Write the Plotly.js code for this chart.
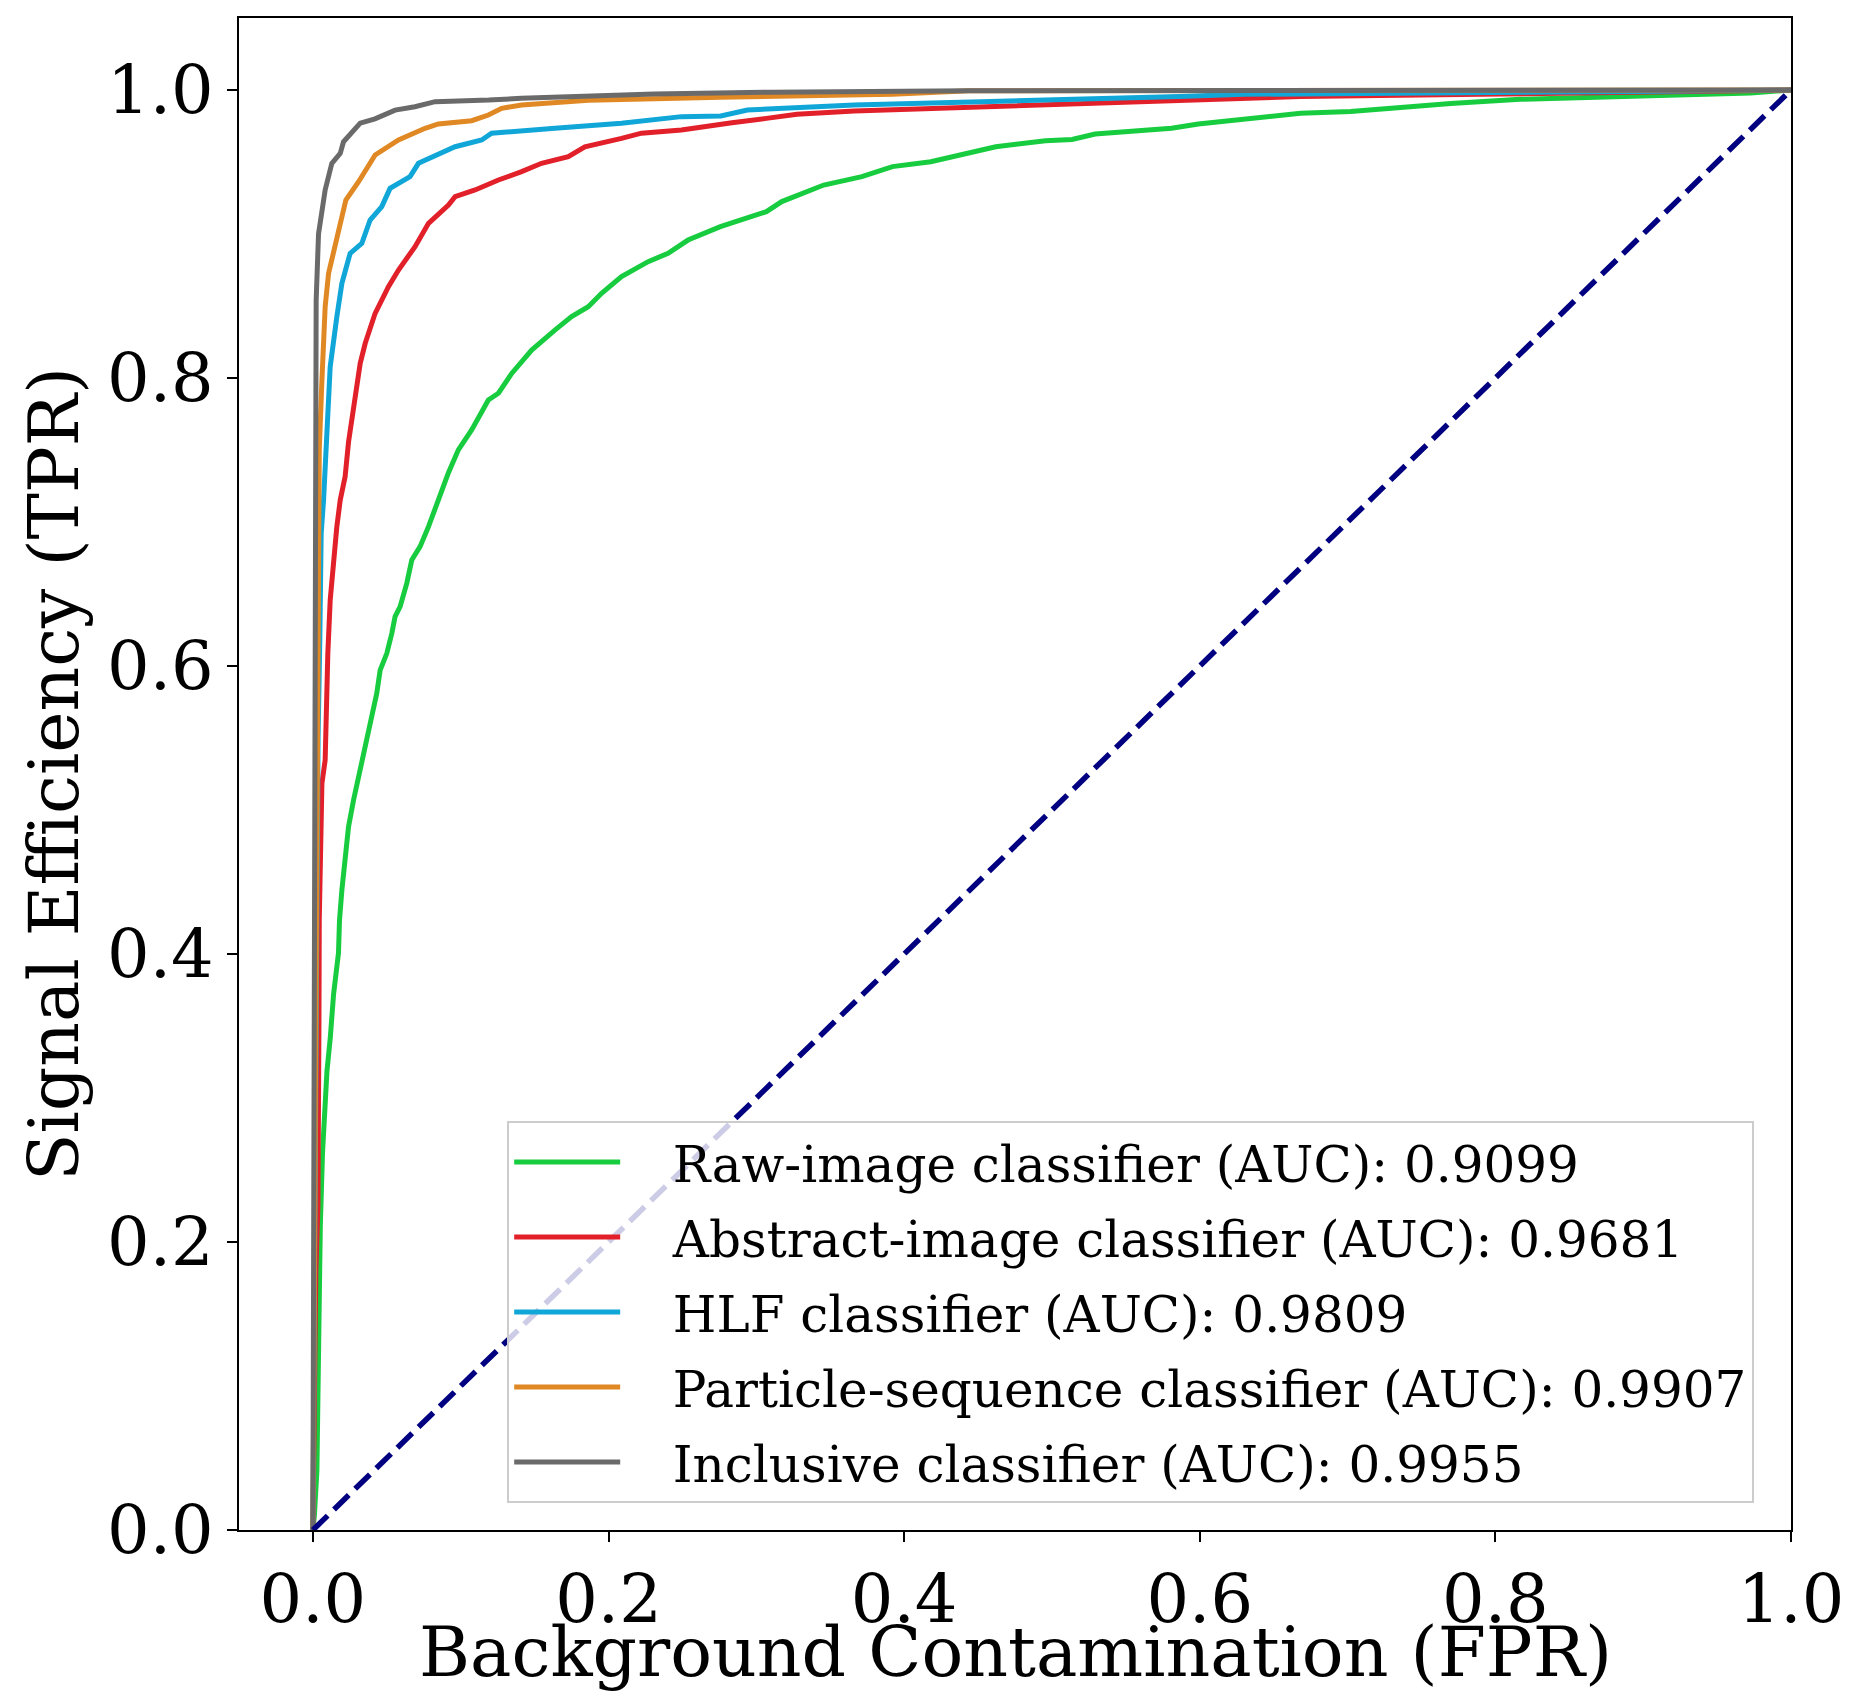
<!DOCTYPE html>
<html>
<head>
<meta charset="utf-8">
<script src="https://cdn.plot.ly/plotly-3.0.1.min.js"></script>
<style>
  html, body { margin: 0; padding: 0; background: #ffffff; }
  #chart { width: 1854px; height: 1694px; }
</style>
</head>
<body>
<div id="chart"></div>
<script>
// ---- Data ----
const seriesNames = [
  "Raw-image classifier (AUC): 0.9099",
  "Abstract-image classifier (AUC): 0.9681",
  "HLF classifier (AUC): 0.9809",
  "Particle-sequence classifier (AUC): 0.9907",
  "Inclusive classifier (AUC): 0.9955"
];
const xTitle = "Background Contamination (FPR)";
const yTitle = "Signal Efficiency (TPR)";

const rawFPR = [0, 0.001, 0.0027, 0.0034, 0.0038, 0.005, 0.0065, 0.0079, 0.0095, 0.0117, 0.014, 0.0173, 0.018, 0.0196, 0.0218, 0.0241, 0.0275, 0.0309, 0.0331, 0.0365, 0.0399, 0.0432, 0.0455, 0.05, 0.0534, 0.0556, 0.059, 0.0635, 0.0669, 0.0725, 0.0782, 0.0849, 0.0917, 0.0984, 0.1074, 0.1187, 0.1255, 0.1345, 0.148, 0.1637, 0.175, 0.1863, 0.1953, 0.2088, 0.2268, 0.2403, 0.2538, 0.2757, 0.3068, 0.3172, 0.3456, 0.3714, 0.3921, 0.418, 0.462, 0.4956, 0.5136, 0.5292, 0.5809, 0.599, 0.6345, 0.6682, 0.702, 0.7698, 0.8166, 0.8946, 0.9728, 1];
const rawTPR = [0, 0.01, 0.041, 0.0974, 0.1542, 0.2108, 0.2618, 0.2958, 0.3185, 0.3411, 0.3723, 0.4007, 0.4236, 0.4444, 0.4676, 0.4884, 0.5069, 0.5231, 0.5347, 0.5486, 0.5648, 0.581, 0.5972, 0.6088, 0.6227, 0.6343, 0.6412, 0.6574, 0.6736, 0.6829, 0.6968, 0.7153, 0.7342, 0.7501, 0.7639, 0.7847, 0.7894, 0.8032, 0.8194, 0.8333, 0.8426, 0.8495, 0.8588, 0.8704, 0.8808, 0.8866, 0.8958, 0.9051, 0.9155, 0.9225, 0.934, 0.9398, 0.9468, 0.9502, 0.9606, 0.9648, 0.9657, 0.9694, 0.9734, 0.9764, 0.9803, 0.9838, 0.985, 0.9907, 0.9935, 0.9958, 0.9979, 1];

const absFPR = [0, 0.001, 0.002, 0.0034, 0.0038, 0.0041, 0.0043, 0.005, 0.0061, 0.0083, 0.009, 0.0101, 0.0117, 0.014, 0.0162, 0.0185, 0.0218, 0.0241, 0.0286, 0.032, 0.0354, 0.0421, 0.0511, 0.0579, 0.0691, 0.0782, 0.0917, 0.0962, 0.1097, 0.1255, 0.1412, 0.1547, 0.1728, 0.184, 0.2088, 0.2223, 0.2493, 0.276, 0.2835, 0.3068, 0.3275, 0.3662, 0.444, 0.5214, 0.599, 0.668, 0.79, 0.9, 1];
const absTPR = [0, 0.1, 0.18, 0.225, 0.267, 0.353, 0.4236, 0.4838, 0.5185, 0.5347, 0.5764, 0.6088, 0.6458, 0.6736, 0.6968, 0.7153, 0.7316, 0.7556, 0.79, 0.8102, 0.8241, 0.8449, 0.8634, 0.875, 0.8912, 0.9074, 0.9201, 0.9259, 0.9306, 0.9375, 0.9433, 0.9491, 0.9537, 0.9606, 0.9664, 0.97, 0.9722, 0.9764, 0.9773, 0.9803, 0.9831, 0.9854, 0.988, 0.9907, 0.9935, 0.9954, 0.997, 0.999, 1];

const hlfFPR = [0, 0.001, 0.002, 0.0035, 0.0047, 0.005, 0.0056, 0.0072, 0.0088, 0.0106, 0.0117, 0.0162, 0.0196, 0.0252, 0.0331, 0.0387, 0.0466, 0.0522, 0.0657, 0.0714, 0.0782, 0.0962, 0.1142, 0.1209, 0.1637, 0.2088, 0.2493, 0.276, 0.2939, 0.3275, 0.3662, 0.4516, 0.5214, 0.5861, 0.63, 0.668, 0.8166, 0.895, 1];
const hlfTPR = [0, 0.2, 0.4, 0.55, 0.62, 0.652, 0.692, 0.715, 0.75, 0.785, 0.8079, 0.8426, 0.8657, 0.8866, 0.8935, 0.9097, 0.919, 0.9317, 0.9398, 0.9491, 0.9525, 0.9606, 0.9653, 0.97, 0.9734, 0.9769, 0.9815, 0.9819, 0.9861, 0.988, 0.9896, 0.9919, 0.9935, 0.9954, 0.997, 0.9972, 0.9981, 0.999, 1];

const seqFPR = [0, 0.001, 0.0022, 0.003, 0.0038, 0.0043, 0.006, 0.0083, 0.0106, 0.0162, 0.0196, 0.0223, 0.0309, 0.0421, 0.0579, 0.0759, 0.0849, 0.1074, 0.1187, 0.1277, 0.1412, 0.1637, 0.1863, 0.276, 0.31, 0.392, 0.444, 0.6, 1];
const seqTPR = [0, 0.2, 0.4, 0.5, 0.6, 0.75, 0.796, 0.8495, 0.8727, 0.8958, 0.9097, 0.9236, 0.9363, 0.9549, 0.9653, 0.9734, 0.9764, 0.9787, 0.9826, 0.9873, 0.9896, 0.9914, 0.9928, 0.9949, 0.9954, 0.997, 0.9995, 0.9998, 1];

const incFPR = [0, 0.0005, 0.001, 0.0013, 0.0016, 0.0022, 0.0038, 0.006, 0.0083, 0.0128, 0.0185, 0.0207, 0.0264, 0.032, 0.042, 0.0556, 0.069, 0.0827, 0.119, 0.141, 0.231, 0.276, 0.31, 0.444, 0.6, 1];
const incTPR = [0, 0.3, 0.6, 0.75, 0.82, 0.854, 0.90, 0.914, 0.9306, 0.949, 0.956, 0.964, 0.970, 0.977, 0.980, 0.986, 0.9884, 0.9919, 0.993, 0.9942, 0.9972, 0.9981, 0.9985, 0.9995, 0.9998, 1];

const chanceFPR = [0, 1];
const chanceTPR = [0, 1];

const xTicks = [0.0, 0.2, 0.4, 0.6, 0.8, 1.0];
const yTicks = [0.0, 0.2, 0.4, 0.6, 0.8, 1.0];

// ---- Styles ----
const colors = ["#18cc40", "#e2202a", "#10a6d8", "#e08824", "#6a6a6a"];
const FONT = "'DejaVu Serif', 'Liberation Serif', serif";
const GAP = "\u00a0\u00a0\u00a0"; // visual gap between legend line sample and label

const xs = [rawFPR, absFPR, hlfFPR, seqFPR, incFPR];
const ys = [rawTPR, absTPR, hlfTPR, seqTPR, incTPR];

const traces = xs.map((x, i) => ({
  type: "scatter",
  mode: "lines",
  x: x,
  y: ys[i],
  name: GAP + seriesNames[i],
  legendgroup: "g" + i,
  line: { color: colors[i], width: 5 },
  hoverinfo: "skip"
}));

traces.push({
  type: "scatter",
  mode: "lines",
  x: chanceFPR,
  y: chanceTPR,
  showlegend: false,
  line: { color: "#000080", width: 5.5, dash: "20.6px,8.9px" },
  hoverinfo: "skip"
});

const axisCommon = {
  showgrid: false,
  zeroline: false,
  showline: true,
  mirror: true,
  linecolor: "#000000",
  linewidth: 2,
  ticks: "outside",
  ticklen: 10,
  tickwidth: 2,
  tickcolor: "#000000",
  tickformat: ".1f",
  tickfont: { family: FONT, size: 67, color: "#000000" },
  automargin: false
};

const layout = {
  width: 1854,
  height: 1694,
  paper_bgcolor: "#ffffff",
  plot_bgcolor: "#ffffff",
  margin: { l: 239, r: 63, t: 18, b: 164, pad: 0, autoexpand: false },
  font: { family: FONT, color: "#000000" },
  showlegend: true,
  xaxis: Object.assign({}, axisCommon, {
    range: [-0.05, 1.0],
    tickvals: xTicks
  }),
  yaxis: Object.assign({}, axisCommon, {
    range: [0, 1.05],
    tickvals: yTicks,
    title: { text: yTitle, font: { family: FONT, size: 69.5, color: "#000000" }, standoff: 6 }
  }),
  annotations: [{
    text: xTitle,
    xref: "paper", yref: "paper",
    x: 0.5, y: 0,
    xanchor: "center", yanchor: "bottom",
    yshift: -164,
    showarrow: false,
    font: { family: FONT, size: 69.5, color: "#000000" }
  }],
  legend: {
    x: 0.1728,
    y: 0.2705,
    xanchor: "left",
    yanchor: "top",
    bgcolor: "rgba(255,255,255,0.8)",
    bordercolor: "#cccccc",
    borderwidth: 2,
    font: { family: FONT, size: 50, color: "#000000" },
    itemwidth: 106,
    tracegroupgap: 7,
    traceorder: "grouped"
  }
};

Plotly.newPlot("chart", traces, layout, { staticPlot: true, displayModeBar: false });
</script>
</body>
</html>
